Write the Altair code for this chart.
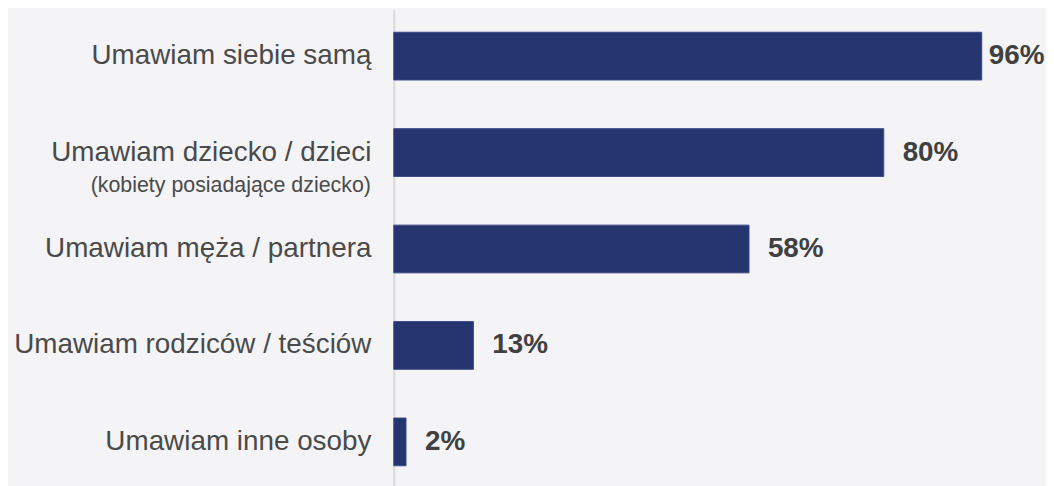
import altair as alt
import pandas as pd

categories = [
    "Umawiam siebie samą",
    "Umawiam dziecko / dzieci",
    "Umawiam męża / partnera",
    "Umawiam rodziców / teściów",
    "Umawiam inne osoby",
]
values = [96, 80, 58, 13, 2]
value_labels = ["96%", "80%", "58%", "13%", "2%"]
subtitle_category = ["Umawiam dziecko / dzieci"]
subtitle_text = ["(kobiety posiadające dziecko)"]

df = pd.DataFrame({"cat": categories, "val": values, "lab": value_labels})
sub_df = pd.DataFrame({"cat": subtitle_category, "txt": subtitle_text})

y_enc = alt.Y(
    "cat:N",
    sort=categories,
    title=None,
    scale=alt.Scale(paddingInner=0.505, paddingOuter=0.237),
    axis=alt.Axis(
        labelFont="Liberation Sans",
        labelFontSize=28,
        labelColor="#4a4a4a",
        labelPadding=23,
        labelLimit=600,
        ticks=False,
        domainColor="#d9d9d9",
        domainWidth=2,
        grid=False,
    ),
)
x_enc = alt.X("val:Q", scale=alt.Scale(domain=[0, 100]), axis=None)

bars = alt.Chart(df).mark_bar(color="#26356f", stroke="#3a4a85", strokeWidth=1).encode(
    x=x_enc, y=y_enc
)

text_style = dict(align="left", baseline="middle", fontSize=28, fontWeight="bold",
                  font="Liberation Sans", color="#404040")

texts_far = alt.Chart(df).transform_filter("datum.val < 90").mark_text(
    dx=19, **text_style
).encode(x=x_enc, y=alt.Y("cat:N", sort=categories), text="lab:N")

texts_near = alt.Chart(df).transform_filter("datum.val >= 90").mark_text(
    dx=7, **text_style
).encode(x=x_enc, y=alt.Y("cat:N", sort=categories), text="lab:N")

sub = alt.Chart(sub_df).mark_text(
    align="right", baseline="middle", dy=34, fontSize=21.5,
    font="Liberation Sans", color="#4a4a4a"
).encode(x=alt.value(-23), y=alt.Y("cat:N", sort=categories), text="txt:N")

chart = (
    alt.layer(bars, texts_far, texts_near, sub)
    .properties(
        width=616,
        height=482,
        autosize=alt.AutoSizeParams(type="none"),
        padding={"left": 388, "top": 0, "right": 40, "bottom": 0},
        background="#f4f4f7",
    )
    .configure_view(stroke=None)
)

chart.save("out.html", embed_options={"renderer": "svg", "actions": False})
